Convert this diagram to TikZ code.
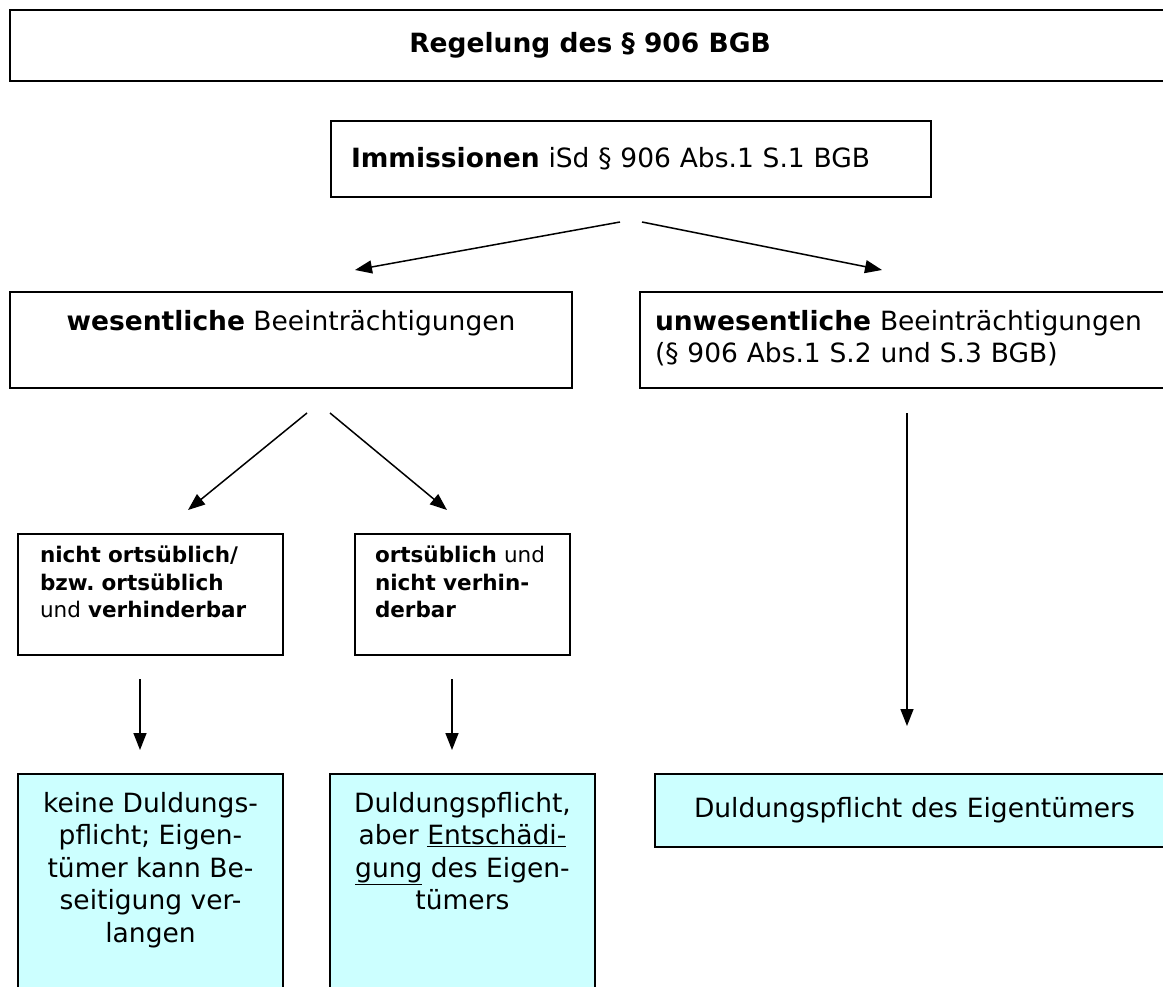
\documentclass[tikz,border=0pt]{standalone}
\usepackage{fontspec}
\setmainfont{DejaVu Sans}
\usetikzlibrary{arrows.meta}
\definecolor{hellcyan}{HTML}{CCFFFF}

\begin{document}
\begin{tikzpicture}
		[x=1pt, y=-1pt,
		kasten/.style= {draw=black, line width=1.8pt, inner sep=0pt},
		gross/.style= {font=\fontsize{26.5}{32.5}\selectfont},
		klein/.style= {font=\fontsize{21.5}{27.5}\selectfont},
		folge/.style= {kasten, gross, fill=hellcyan, align=center},
		pfeil/.style= {-{Triangle[length=17pt,width=13pt]}, line width=1.5pt}]

		\useasboundingbox (0,0) rectangle (1163,987);
		\clip (0,0) rectangle (1163,987);

		% oben
		\node[kasten, gross, minimum width=1160, minimum height=71] (titel) at (590,45.5)
			{\textbf{Regelung des § 906 BGB}};

		\node[kasten, gross, minimum width=600, minimum height=76, inner xsep=20pt, text width=560, align=left] (imm) at (631,159)
			{\textbf{Immissionen} iSd § 906 Abs.1 S.1 BGB};

		% zweite Ebene
		\node[kasten, gross, minimum width=562, minimum height=96, align=center] (wes) at (291,340)
			{\strut\textbf{wesentliche} Beeinträchtigungen\\ \strut};

		\node[kasten, gross, minimum width=550, minimum height=96, inner xsep=15pt, text width=520, align=left] (unwes) at (915,340)
			{\strut\textbf{unwesentliche} Beeinträchtigungen\\ \strut(§ 906 Abs.1 S.2 und S.3 BGB)};

		% dritte Ebene
		\node[kasten, klein, minimum width=265, minimum height=121, inner xsep=22pt, text width=221, align=left] (nichtort) at (150.5,594.5)
			{\strut\textbf{nicht ortsüblich/}\\ \textbf{bzw.\ ortsüblich}\\ und \textbf{verhinderbar}\\[-8pt] \strut};

		\node[kasten, klein, minimum width=215, minimum height=121, inner xsep=20pt, text width=175, align=left] (ort) at (462.5,594.5)
			{\strut\textbf{ortsüblich} und\\ \textbf{nicht verhin-}\\ \textbf{derbar}\\[-8pt] \strut};

		% Rechtsfolgen
		\node[folge, minimum width=265, minimum height=258] (keine) at (150.5,903)
			{\strut keine Duldungs-\\ pflicht; Eigen-\\ tümer kann Be-\\ seitigung ver-\\ langen\\ \strut\\ \strut};

		\node[folge, minimum width=265, minimum height=258] (entsch) at (462.5,903)
			{\strut Duldungspflicht,\\ aber \underline{Entschädi-}\\ \underline{gung} des Eigen-\\ tümers\\ \strut\\ \strut\\ \strut};

		\node[folge, minimum width=540, minimum height=73, inner xsep=39pt, text width=462, align=left] (duld) at (925,810.5)
			{Duldungspflicht des Eigentümers};

		% Pfeile
		\coordinate (i1) at (620,222);
		\coordinate (i2) at (642,222);
		\coordinate (w0) at (355,270);
		\coordinate (u0) at (882,270);
		\coordinate (w1) at (307,413);
		\coordinate (w2) at (330,413);
		\coordinate (n0) at (188,510);
		\coordinate (o0) at (447,510);
		\coordinate (n1) at (140,679);
		\coordinate (k0) at (140,750);
		\coordinate (o1) at (452,679);
		\coordinate (e0) at (452,750);
		\coordinate (u1) at (907,413);
		\coordinate (d0) at (907,726);

		\path (i1) edge[pfeil] (w0)
			(i2) edge[pfeil] (u0)
			(w1) edge[pfeil] (n0)
			(w2) edge[pfeil] (o0)
			(n1) edge[pfeil] (k0)
			(o1) edge[pfeil] (e0)
			(u1) edge[pfeil] (d0);

	\end{tikzpicture}
\end{document}
